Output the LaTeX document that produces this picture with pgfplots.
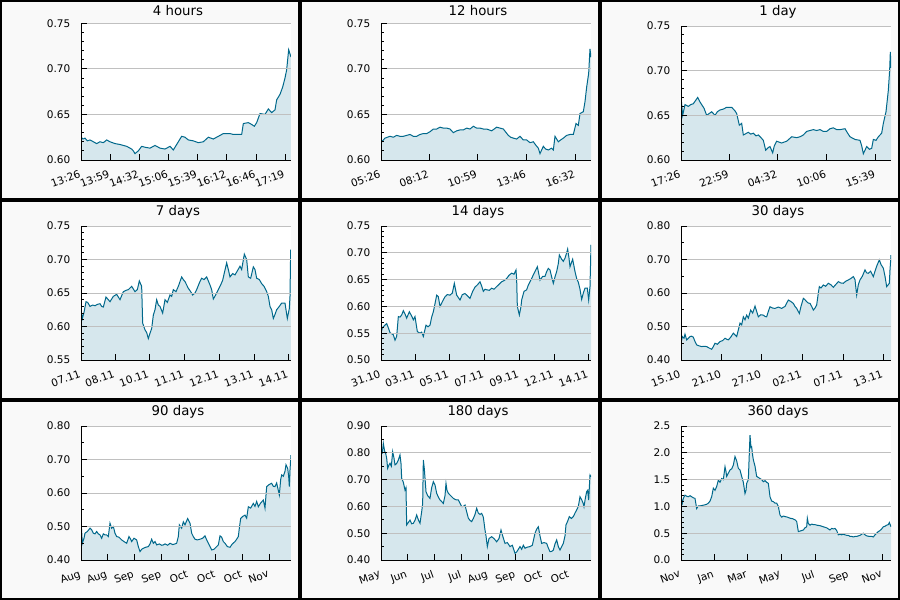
\documentclass[border=0pt]{standalone}
\usepackage{fontspec}
\setmainfont{DejaVu Sans}
\usepackage{pgfplots}
\pgfplotsset{compat=1.18}
\usepackage{pgfplotstable}

\definecolor{linec}{RGB}{0,104,139}
\definecolor{fillc}{RGB}{214,231,237}
\definecolor{bgc}{RGB}{249,249,249}
\definecolor{gridc}{RGB}{192,192,192}

\pgfplotsset{
  panel/.style={
    scale only axis, width=210pt, height=134pt,
    anchor=south west,
    xmin=243, xmax=873,
    axis x line*=bottom, axis y line*=left,
    axis line style={line width=0.9pt},
    axis background/.style={fill=white},
    axis on top,
    tick align=inside,
    major tick length=6pt, minor tick length=3pt,
    tick style={black, line width=0.9pt},
    ymajorgrids, major grid style={gridc, line width=0.9pt},
    tick label style={font=\fontsize{10.5}{12}\selectfont},
    /pgf/number format/assume math mode=true,
    y tick label style={/pgf/number format/fixed, /pgf/number format/fixed zerofill,
      /pgf/number format/precision=2, anchor=east, inner sep=0pt, xshift=-10.5pt},
    x tick label style={rotate=20, anchor=north east, inner sep=0pt, xshift=-5.5pt, yshift=-8pt},
  },
  area/.style={fill=fillc, draw=none, forget plot},
  curve/.style={linec, line width=1pt, no marks},
}

% 4 hours
\pgfplotstableread{
x y
243 0.625
249 0.623
255 0.624
262 0.621
270 0.622
280 0.620
290 0.618
300 0.620
310 0.619
320 0.622
330 0.620
345 0.618
360 0.617
370 0.616
380 0.615
395 0.612
400 0.610
405 0.607
415 0.610
425 0.615
435 0.614
450 0.613
465 0.616
480 0.613
495 0.612
505 0.614
510 0.615
520 0.611
530 0.617
545 0.626
555 0.625
565 0.622
580 0.621
595 0.619
610 0.620
625 0.625
640 0.623
655 0.626
670 0.629
690 0.629
700 0.628
725 0.628
730 0.640
745 0.641
755 0.639
763 0.637
770 0.641
780 0.651
795 0.650
805 0.656
815 0.652
825 0.655
830 0.666
840 0.672
848 0.680
855 0.690
860 0.699
866 0.721
873 0.713
}\dataA

% 12 hours
\pgfplotstableread{
x y
243 0.619
250 0.622
255 0.624
270 0.626
280 0.625
290 0.627
300 0.626
310 0.626
320 0.627
330 0.628
340 0.626
350 0.626
360 0.628
370 0.629
380 0.629
390 0.631
400 0.634
410 0.634
420 0.636
430 0.635
440 0.635
450 0.634
460 0.630
470 0.632
480 0.633
490 0.633
500 0.635
510 0.634
520 0.637
530 0.635
540 0.635
550 0.634
560 0.634
575 0.632
590 0.636
600 0.635
610 0.634
625 0.627
632 0.625
640 0.624
650 0.623
660 0.626
670 0.622
680 0.622
690 0.619
700 0.620
708 0.616
715 0.613
720 0.607
730 0.615
737 0.612
745 0.611
755 0.613
760 0.611
765 0.626
775 0.620
782 0.622
790 0.624
800 0.627
810 0.628
820 0.628
828 0.640
835 0.638
840 0.651
850 0.653
855 0.664
860 0.680
866 0.695
870 0.722
873 0.713
}\dataB

% 1 day
\pgfplotstableread{
x y
243 0.671
248 0.650
255 0.662
265 0.660
272 0.662
280 0.663
293 0.670
300 0.665
305 0.662
312 0.658
320 0.650
335 0.654
345 0.650
352 0.654
360 0.656
370 0.657
380 0.659
395 0.659
405 0.655
410 0.652
418 0.639
425 0.641
430 0.628
445 0.631
452 0.629
460 0.630
468 0.627
475 0.628
483 0.625
490 0.622
497 0.611
505 0.614
510 0.615
518 0.608
523 0.616
530 0.621
545 0.619
552 0.620
560 0.621
575 0.626
590 0.625
600 0.626
610 0.628
620 0.632
630 0.633
640 0.634
650 0.633
660 0.634
670 0.632
680 0.632
690 0.635
700 0.636
710 0.634
720 0.634
735 0.635
743 0.630
750 0.626
765 0.623
780 0.622
785 0.616
790 0.607
800 0.615
808 0.612
815 0.613
820 0.623
828 0.622
835 0.626
845 0.630
850 0.641
858 0.654
865 0.678
869 0.701
871 0.721
873 0.703
}\dataC

% 7 days
\pgfplotstableread{
x y
243 0.625
247 0.612
252 0.621
258 0.637
263 0.636
270 0.630
278 0.632
285 0.631
292 0.633
300 0.634
305 0.630
310 0.629
318 0.644
325 0.640
330 0.637
335 0.641
340 0.645
350 0.648
360 0.640
365 0.646
370 0.652
378 0.654
385 0.655
395 0.660
400 0.656
405 0.652
412 0.655
418 0.668
425 0.660
428 0.605
435 0.595
440 0.591
445 0.582
450 0.590
455 0.597
460 0.617
465 0.625
470 0.640
475 0.632
480 0.630
488 0.620
495 0.640
502 0.636
510 0.647
515 0.645
520 0.655
528 0.652
535 0.660
545 0.674
550 0.670
555 0.667
560 0.662
565 0.657
572 0.652
578 0.647
585 0.650
590 0.655
598 0.665
605 0.672
612 0.670
620 0.674
625 0.668
630 0.662
635 0.655
640 0.641
648 0.648
655 0.655
662 0.662
668 0.669
673 0.680
680 0.695
685 0.685
690 0.674
698 0.679
705 0.677
712 0.683
720 0.690
725 0.685
733 0.708
740 0.700
745 0.674
752 0.672
760 0.689
765 0.685
770 0.672
778 0.670
785 0.664
792 0.660
800 0.652
805 0.645
810 0.630
815 0.625
820 0.612
825 0.618
830 0.625
838 0.630
845 0.635
855 0.635
858 0.625
862 0.612
868 0.627
870 0.645
872 0.714
873 0.714
}\dataD

% 14 days
\pgfplotstableread{
x y
243 0.550
247 0.560
250 0.562
255 0.565
260 0.568
265 0.560
270 0.551
275 0.549
280 0.547
285 0.537
290 0.544
295 0.581
300 0.580
305 0.584
310 0.592
315 0.586
320 0.578
328 0.590
335 0.582
340 0.575
345 0.581
352 0.553
360 0.550
365 0.552
370 0.544
378 0.565
384 0.562
390 0.565
395 0.580
400 0.590
405 0.605
410 0.621
415 0.618
420 0.600
428 0.610
435 0.618
442 0.622
450 0.621
457 0.625
463 0.643
470 0.621
480 0.612
487 0.622
495 0.624
502 0.620
510 0.615
518 0.628
525 0.636
532 0.640
540 0.646
545 0.638
550 0.628
555 0.632
560 0.631
568 0.630
575 0.634
582 0.632
590 0.637
597 0.641
605 0.646
612 0.648
620 0.652
627 0.658
635 0.662
642 0.660
648 0.668
650 0.650
652 0.600
658 0.584
663 0.600
665 0.612
672 0.628
680 0.631
685 0.640
690 0.646
695 0.652
700 0.659
705 0.665
712 0.674
716 0.662
720 0.649
728 0.656
735 0.656
740 0.665
745 0.671
750 0.668
755 0.655
760 0.643
765 0.655
770 0.665
775 0.680
778 0.696
785 0.688
790 0.684
795 0.690
800 0.700
803 0.707
807 0.690
810 0.674
818 0.688
825 0.665
830 0.652
835 0.645
840 0.632
845 0.613
850 0.625
855 0.634
862 0.634
866 0.612
870 0.637
873 0.715
}\dataE

% 30 days
\pgfplotstableread{
x y
243 0.450
247 0.470
252 0.465
255 0.477
260 0.460
265 0.465
270 0.470
275 0.471
280 0.468
285 0.455
290 0.445
298 0.442
305 0.440
312 0.441
320 0.440
327 0.436
335 0.432
340 0.440
345 0.450
352 0.447
360 0.455
368 0.458
375 0.465
380 0.462
385 0.460
392 0.468
400 0.480
405 0.475
410 0.470
415 0.490
420 0.510
425 0.505
430 0.529
435 0.520
440 0.534
445 0.525
452 0.549
458 0.540
465 0.561
470 0.545
475 0.529
482 0.535
490 0.534
495 0.530
500 0.529
505 0.545
510 0.559
518 0.555
525 0.554
535 0.558
545 0.554
555 0.560
565 0.579
572 0.575
580 0.569
585 0.560
590 0.554
598 0.539
603 0.560
610 0.584
615 0.580
620 0.574
625 0.570
630 0.569
635 0.560
640 0.549
645 0.555
650 0.564
655 0.600
658 0.619
663 0.615
670 0.624
677 0.620
685 0.629
692 0.625
700 0.617
707 0.625
715 0.634
722 0.630
730 0.629
737 0.635
745 0.639
752 0.643
760 0.649
765 0.640
770 0.594
775 0.625
780 0.639
787 0.650
795 0.669
800 0.660
805 0.659
812 0.665
820 0.649
825 0.665
830 0.680
838 0.699
843 0.685
850 0.674
855 0.650
860 0.619
865 0.625
868 0.629
870 0.669
873 0.713
}\dataF

% 90 days
\pgfplotstableread{
x y
243 0.519
247 0.450
252 0.465
255 0.480
262 0.485
270 0.495
275 0.490
280 0.480
285 0.478
290 0.485
295 0.478
300 0.475
305 0.465
310 0.478
315 0.475
320 0.475
325 0.470
330 0.510
335 0.495
340 0.500
345 0.480
350 0.470
357 0.468
365 0.460
372 0.455
380 0.450
387 0.470
392 0.462
395 0.455
402 0.465
410 0.460
415 0.440
420 0.425
425 0.432
430 0.435
437 0.438
445 0.440
450 0.448
455 0.462
460 0.450
465 0.455
470 0.445
478 0.448
485 0.444
490 0.445
495 0.448
503 0.444
510 0.450
518 0.446
525 0.448
530 0.450
535 0.470
538 0.505
545 0.495
550 0.514
555 0.505
563 0.524
570 0.510
575 0.480
580 0.470
585 0.462
592 0.460
600 0.462
608 0.465
615 0.472
620 0.460
625 0.450
630 0.440
635 0.430
642 0.432
650 0.440
655 0.445
660 0.472
665 0.468
670 0.455
675 0.450
682 0.440
690 0.438
697 0.448
705 0.455
710 0.462
715 0.470
718 0.495
722 0.524
728 0.530
735 0.534
740 0.525
745 0.559
752 0.555
760 0.569
765 0.560
770 0.575
775 0.559
782 0.570
790 0.579
795 0.555
800 0.619
807 0.625
815 0.629
820 0.620
825 0.619
830 0.630
838 0.594
842 0.640
845 0.654
850 0.650
855 0.665
858 0.684
863 0.674
866 0.650
868 0.619
870 0.669
873 0.713
}\dataG

% 180 days
\pgfplotstableread{
x y
243 0.804
247 0.800
250 0.835
254 0.805
257 0.798
260 0.780
263 0.742
267 0.755
270 0.761
274 0.750
278 0.804
282 0.780
285 0.755
290 0.760
295 0.773
300 0.792
303 0.760
305 0.705
310 0.690
315 0.661
318 0.670
320 0.531
325 0.540
330 0.549
335 0.535
340 0.537
345 0.548
350 0.568
355 0.550
360 0.537
365 0.580
368 0.610
370 0.773
373 0.740
378 0.655
383 0.640
390 0.630
395 0.670
400 0.692
405 0.680
410 0.649
415 0.635
420 0.624
425 0.618
430 0.611
435 0.640
438 0.686
441 0.660
445 0.649
452 0.640
460 0.630
467 0.625
475 0.624
480 0.612
485 0.599
490 0.600
495 0.605
500 0.580
505 0.556
510 0.548
515 0.543
520 0.555
525 0.570
530 0.593
535 0.575
540 0.570
545 0.574
550 0.560
555 0.512
558 0.490
562 0.450
567 0.480
575 0.487
582 0.480
590 0.468
597 0.480
603 0.512
608 0.490
615 0.462
622 0.465
630 0.450
637 0.455
645 0.425
650 0.430
655 0.440
660 0.450
665 0.440
670 0.455
675 0.444
682 0.448
690 0.450
697 0.455
705 0.500
710 0.515
715 0.524
720 0.490
725 0.462
732 0.465
740 0.462
745 0.445
750 0.431
755 0.432
760 0.437
765 0.460
770 0.475
775 0.450
780 0.437
785 0.450
790 0.462
795 0.490
798 0.531
803 0.545
808 0.562
814 0.555
820 0.562
825 0.575
830 0.587
835 0.600
840 0.636
845 0.625
850 0.610
852 0.599
856 0.630
860 0.655
863 0.660
866 0.624
870 0.717
873 0.711
}\dataH

% 360 days
\pgfplotstableread{
x y
243 1.18
247 1.06
250 1.15
255 1.21
260 1.19
265 1.18
270 1.20
275 1.18
280 1.16
285 1.15
290 0.96
295 1.01
300 1.01
308 1.02
315 1.03
320 1.04
325 1.06
330 1.10
335 1.18
340 1.34
345 1.30
350 1.37
355 1.49
360 1.45
365 1.52
370 1.50
375 1.74
378 1.65
380 1.56
385 1.62
390 1.68
395 1.70
400 1.77
405 1.93
410 1.85
415 1.71
420 1.68
425 1.56
430 1.45
435 1.24
438 1.30
440 1.43
445 1.50
450 2.33
453 2.10
455 2.11
458 1.95
460 1.87
465 1.75
470 1.56
475 1.54
480 1.52
485 1.50
490 1.46
495 1.48
500 1.45
505 1.43
510 1.18
515 1.10
520 1.09
525 1.06
530 1.06
535 1.00
540 0.84
545 0.80
550 0.82
555 0.81
562 0.80
570 0.78
578 0.77
585 0.75
590 0.72
595 0.53
600 0.54
605 0.55
610 0.56
615 0.60
620 0.62
622 0.78
625 0.68
630 0.65
635 0.67
640 0.66
645 0.66
650 0.65
660 0.64
670 0.62
680 0.60
690 0.56
695 0.59
700 0.58
705 0.59
710 0.55
715 0.47
720 0.48
725 0.47
730 0.48
735 0.47
740 0.46
745 0.46
750 0.44
755 0.44
760 0.43
765 0.44
770 0.44
775 0.45
780 0.46
785 0.48
790 0.50
795 0.47
800 0.45
808 0.44
815 0.44
820 0.43
825 0.47
830 0.50
835 0.53
840 0.55
845 0.58
850 0.62
855 0.63
860 0.65
865 0.66
868 0.70
873 0.62
}\dataI

\begin{document}
\begin{tikzpicture}
\fill[bgc] (0pt,0pt) rectangle (900pt,600pt);

% row 1
\begin{axis}[panel, at={(81pt,440pt)}, height=136.7pt,
  ymin=0.60, ymax=0.75, ytick={0.60,0.65,0.70,0.75}, minor y tick num=4,
  xtick={243,330.5,418,505.5,593,680.5,768,855.5},
  xticklabels={13:26,13:59,14:32,15:06,15:39,16:12,16:46,17:19}]
  \addplot[area] table {\dataA} \closedcycle;
  \addplot[curve] table {\dataA};
\end{axis}
\begin{axis}[panel, at={(381pt,440pt)}, height=136.7pt,
  ymin=0.60, ymax=0.75, ytick={0.60,0.65,0.70,0.75}, minor y tick num=4,
  xtick={243,388,533,680,827},
  xticklabels={05:26,08:12,10:59,13:46,16:32}]
  \addplot[area] table {\dataB} \closedcycle;
  \addplot[curve] table {\dataB};
\end{axis}
\begin{axis}[panel, at={(681pt,440pt)},
  ymin=0.60, ymax=0.75, ytick={0.60,0.65,0.70,0.75}, minor y tick num=4,
  xtick={243,388,533,680,827},
  xticklabels={17:26,22:59,04:32,10:06,15:39}]
  \addplot[area] table {\dataC} \closedcycle;
  \addplot[curve] table {\dataC};
\end{axis}

% row 2
\begin{axis}[panel, at={(81pt,240pt)},
  ymin=0.55, ymax=0.75, ytick={0.55,0.60,0.65,0.70,0.75}, minor y tick num=4,
  xtick={243,345,448,553,658,762,866},
  xticklabels={07.11,08.11,10.11,11.11,12.11,13.11,14.11}]
  \addplot[area] table {\dataD} \closedcycle;
  \addplot[curve] table {\dataD};
\end{axis}
\begin{axis}[panel, at={(381pt,240pt)},
  ymin=0.50, ymax=0.75, ytick={0.50,0.55,0.60,0.65,0.70,0.75}, minor y tick num=4,
  xtick={243,345,448,553,658,762,866},
  xticklabels={31.10,03.11,05.11,07.11,09.11,12.11,14.11}]
  \addplot[area] table {\dataE} \closedcycle;
  \addplot[curve] table {\dataE};
\end{axis}
\begin{axis}[panel, at={(681pt,240pt)},
  ymin=0.40, ymax=0.80, ytick={0.40,0.50,0.60,0.70,0.80}, minor y tick num=1,
  xtick={243,365,485,607,730,850},
  xticklabels={15.10,21.10,27.10,02.11,07.11,13.11}]
  \addplot[area] table {\dataF} \closedcycle;
  \addplot[curve] table {\dataF};
\end{axis}

% row 3
\begin{axis}[panel, at={(81pt,40pt)},
  ymin=0.40, ymax=0.80, ytick={0.40,0.50,0.60,0.70,0.80}, minor y tick num=1,
  xtick={243,323,403,485,565,647,727,808},
  xticklabels={Aug,Aug,Sep,Sep,Oct,Oct,Oct,Nov}]
  \addplot[area] table {\dataG} \closedcycle;
  \addplot[curve] table {\dataG};
\end{axis}
\begin{axis}[panel, at={(381pt,40pt)},
  ymin=0.40, ymax=0.90, ytick={0.40,0.50,0.60,0.70,0.80,0.90}, minor y tick num=1,
  xtick={243,323,403,485,565,647,727,808},
  xticklabels={May,Jun,Jul,Jul,Aug,Sep,Oct,Oct}]
  \addplot[area] table {\dataH} \closedcycle;
  \addplot[curve] table {\dataH};
\end{axis}
\begin{axis}[panel, at={(681pt,40pt)},
  ymin=0, ymax=2.5, ytick={0,0.5,1.0,1.5,2.0,2.5}, minor y tick num=4,
  y tick label style={/pgf/number format/precision=1},
  xtick={243,343,443,543,645,747,848},
  xticklabels={Nov,Jan,Mar,May,Jul,Sep,Nov}]
  \addplot[area] table {\dataI} \closedcycle;
  \addplot[curve] table {\dataI};
\end{axis}

% titles
\begin{scope}[every node/.style={font=\fontsize{13.3}{15}\selectfont, anchor=base}]
  \node at (178pt,584.3pt) {4 hours};
  \node at (478pt,584.3pt) {12 hours};
  \node at (778pt,584.3pt) {1 day};
  \node at (178pt,384.3pt) {7 days};
  \node at (478pt,384.3pt) {14 days};
  \node at (778pt,384.3pt) {30 days};
  \node at (178pt,184.3pt) {90 days};
  \node at (478pt,184.3pt) {180 days};
  \node at (778pt,184.3pt) {360 days};
\end{scope}

% cell frames
\foreach \i in {0,1,2} {
  \foreach \j in {0,1,2} {
    \draw[black, line width=2pt] (\i*300pt+1pt,\j*200pt+1pt) rectangle (\i*300pt+299pt,\j*200pt+199pt);
  }
}
\end{tikzpicture}
\end{document}
